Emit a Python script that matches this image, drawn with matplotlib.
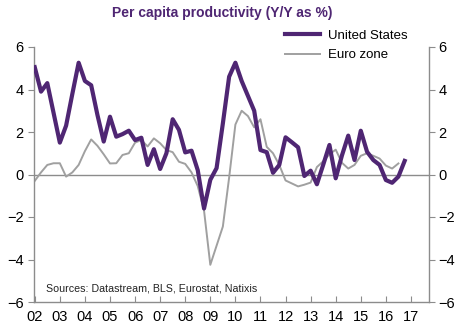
import numpy as np
import matplotlib
matplotlib.use("Agg")
from matplotlib import pyplot as plt

plt.rcParams['font.family'] = ['Liberation Sans', 'DejaVu Sans']

# quarterly data, 2002Q1 onwards
us_productivity = [
    5.05, 3.9, 4.3, 2.9,
    1.5, 2.3, 3.8, 5.26,
    4.4, 4.2, 2.8, 1.55,
    2.72, 1.78, 1.9, 2.06,
    1.62, 1.73, 0.45, 1.19,
    0.26, 1.0, 2.6, 2.1,
    1.04, 1.12, 0.2, -1.6,
    -0.25, 0.3, 2.4, 4.6,
    5.26, 4.4, 3.7, 3.0,
    1.15, 1.05, 0.08, 0.45,
    1.75, 1.52, 1.28, -0.07,
    0.18, -0.46, 0.45, 1.39,
    -0.18, 0.9, 1.83, 0.68,
    2.06, 1.07, 0.68, 0.45,
    -0.26, -0.39, -0.1, 0.64,
]
ez_productivity = [
    -0.3, 0.1, 0.45, 0.53,
    0.53, -0.1, 0.1, 0.45,
    1.1, 1.65, 1.35, 0.95,
    0.52, 0.53, 0.92, 1.0,
    1.5, 1.62, 1.32, 1.7,
    1.47, 1.15, 1.05, 0.6,
    0.5, 0.1, -0.55, -1.7,
    -4.25, -3.35, -2.45, -0.15,
    2.35, 3.0, 2.75, 2.22,
    2.6, 1.3, 1.0, 0.45,
    -0.28, -0.42, -0.56, -0.48,
    -0.38, 0.35, 0.62, 0.95,
    1.17, 0.55, 0.28, 0.45,
    0.88, 1.0, 0.88, 0.75,
    0.42, 0.28, 0.52,
]
year_labels = ['02', '03', '04', '05', '06', '07', '08', '09',
               '10', '11', '12', '13', '14', '15', '16', '17']

us_x = 2002 + np.arange(len(us_productivity)) / 4
ez_x = 2002 + np.arange(len(ez_productivity)) / 4
years = 2002 + np.arange(len(year_labels))

purple = '#4f2673'
axis_gray = '#8c8c8c'

fig = plt.figure(figsize=(4.68, 3.35), dpi=100)
ax = fig.add_axes([33.5 / 468, 1 - 302 / 335, (429 - 33.5) / 468, (302 - 47) / 335])

ax.axhline(0, color=axis_gray, lw=1, zorder=1)
ax.plot(ez_x, ez_productivity, color='#a0a0a0', lw=1.4, label='Euro zone', zorder=2)
ax.plot(us_x, us_productivity, color=purple, lw=3, label='United States', zorder=3)

ax.set_xlim(2001.95, 2017.72)
ax.set_ylim(-6, 6)
ax.set_yticks(range(-6, 7, 2))
ax.set_xticks(years)
ax.set_xticklabels(year_labels)

for side in ['left', 'right', 'bottom']:
    ax.spines[side].set_color(axis_gray)
    ax.spines[side].set_linewidth(1)
ax.spines['top'].set_visible(False)

ax.tick_params(axis='x', direction='in', length=4, color=axis_gray, labelsize=10.5, pad=6)
ax.tick_params(axis='y', direction='out', length=4, color=axis_gray, labelsize=10.5,
               left=True, right=True, labelleft=True, labelright=True, pad=3)

# reorder legend: US first
handles, labels = ax.get_legend_handles_labels()
ax.legend(handles[::-1], labels[::-1], loc='upper right', bbox_to_anchor=(0.975, 1.115),
          frameon=False, fontsize=9.5, handlelength=2.6, handletextpad=0.6,
          labelspacing=0.55)

ax.text(0.032, 0.04, 'Sources: Datastream, BLS, Eurostat, Natixis', transform=ax.transAxes,
        fontsize=7.7, color='#222222')

fig.text(0.475, 0.962, 'Per capita productivity (Y/Y as %)', ha='center', va='center',
         fontsize=10, fontweight='bold', color=purple)

fig.savefig('out.png', dpi=100)
